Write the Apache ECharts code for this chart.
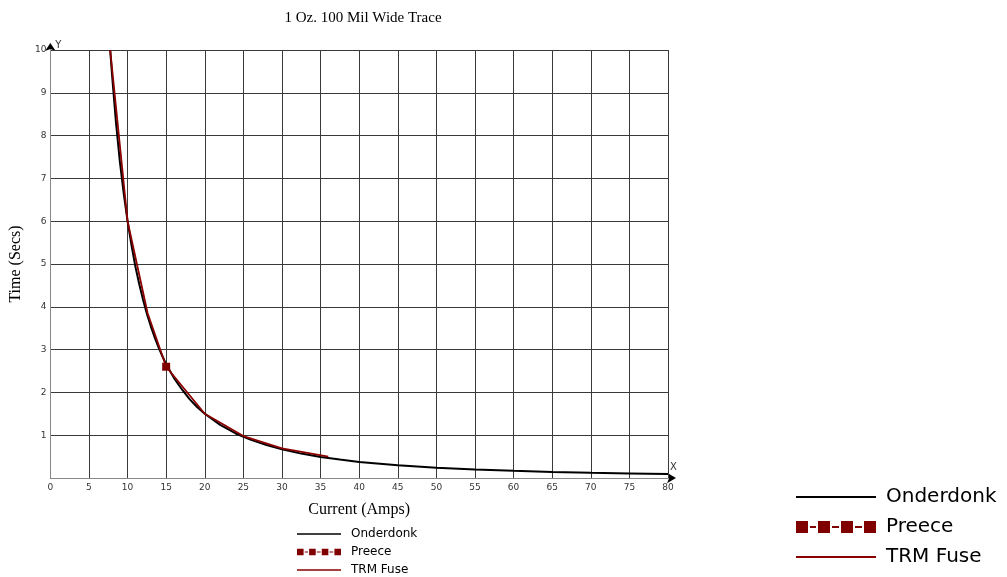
<!DOCTYPE html>
<html>
<head>
<meta charset="utf-8">
<script src="https://cdn.jsdelivr.net/npm/echarts@6/dist/echarts.min.js"></script>
<style>
  html, body { margin: 0; padding: 0; background: #fff; }
  #chart { width: 1007px; height: 577px; }
</style>
</head>
<body>
<div id="chart"></div>
<script>
// Fusing time versus current for a 1 oz, 100 mil wide copper trace
const chartTitle = '1 Oz. 100 Mil Wide Trace';
const xTickValues = [0, 5, 10, 15, 20, 25, 30, 35, 40, 45, 50, 55, 60, 65, 70, 75, 80];
const yTickValues = [0, 1, 2, 3, 4, 5, 6, 7, 8, 9, 10];

// Onderdonk: current (A) and time (s)
const onderdonkAmps = [7.75, 8, 8.5, 9, 9.5, 10, 10.5, 11, 11.5, 12, 12.5, 13, 13.5, 14, 14.5, 15, 16, 17, 18, 19, 20, 22, 24, 26, 28, 30, 32.5, 35, 37.5, 40, 45, 50, 55, 60, 65, 70, 75, 80];
const onderdonkSecs = [10, 9.4, 8.3, 7.4, 6.65, 6.0, 5.45, 4.95, 4.54, 4.17, 3.84, 3.55, 3.29, 3.06, 2.85, 2.66, 2.34, 2.08, 1.85, 1.66, 1.5, 1.24, 1.04, 0.89, 0.77, 0.67, 0.57, 0.49, 0.43, 0.375, 0.30, 0.24, 0.20, 0.167, 0.142, 0.122, 0.107, 0.094];

// Preece: single point in range
const preeceAmps = [15];
const preeceSecs = [2.6];

// TRM Fuse
const trmAmps = [7.75, 10, 12.6, 15, 20, 25, 30, 36];
const trmSecs = [10, 6.0, 3.85, 2.6, 1.5, 0.98, 0.69, 0.5];

const seriesNames = ['Onderdonk', 'Preece', 'TRM Fuse'];

const pair = (xs, ys) => xs.map((x, i) => [x, ys[i]]);

// legend glyphs: a plain stroke, and a square-dash-square pattern
const bigLine = 'path://M0 0 h80 v2 h-80 Z';
const smallLine = 'path://M0 0 h44 v1.6 h-44 Z';
const preeceIcon = 'path://M0 0 h12 v12 h-12 Z M14 5 h6 v2 h-6 Z M22 0 h12 v12 h-12 Z M36 5 h7 v2 h-7 Z M45 0 h12 v12 h-12 Z M59 5 h7 v2 h-7 Z M68 0 h12 v12 h-12 Z';

const legendItems = (lineIcon) => seriesNames.map(n => ({ name: n, icon: n === 'Preece' ? preeceIcon : lineIcon }));

const chart = echarts.init(document.getElementById('chart'), null, { renderer: 'canvas' });

const gridLine = { show: true, lineStyle: { color: '#3a3a3a', width: 1 } };
const tickLabel = { color: '#333', fontFamily: 'DejaVu Sans', fontSize: 9 };

chart.setOption({
  animation: false,
  backgroundColor: '#fff',
  title: {
    text: chartTitle,
    left: 358,
    textAlign: 'center',
    top: 6,
    textStyle: { fontFamily: 'Liberation Serif', fontWeight: 'normal', fontSize: 15, color: '#000' }
  },
  legend: [
    {
      data: legendItems(smallLine),
      orient: 'vertical',
      left: 297,
      top: 527,
      padding: 0,
      itemWidth: 44,
      itemHeight: 7,
      itemGap: 4,
      textStyle: { fontFamily: 'DejaVu Sans', fontSize: 12, color: '#000', lineHeight: 14, padding: [0, 0, 0, 5] },
      selectedMode: false
    },
    {
      data: legendItems(bigLine),
      orient: 'vertical',
      left: 796,
      top: 486,
      padding: 0,
      itemWidth: 80,
      itemHeight: 12,
      itemGap: 8,
      textStyle: { fontFamily: 'DejaVu Sans', fontSize: 20, color: '#000', lineHeight: 22, padding: [0, 0, 0, 5] },
      selectedMode: false
    }
  ],
  grid: { left: 49, right: 339, top: 50, bottom: 99, containLabel: false },
  xAxis: [
    {
      type: 'value',
      min: 0, max: 80, interval: 5,
      name: 'Current (Amps)',
      nameLocation: 'middle',
      nameGap: 24,
      nameTextStyle: { fontFamily: 'Liberation Serif', fontSize: 16, color: '#000' },
      axisLine: { show: true, onZero: false, lineStyle: { color: '#888', width: 1 } },
      axisTick: { show: false },
      axisLabel: Object.assign({ margin: 5 }, tickLabel),
      splitLine: gridLine,
      z: 2
    },
    {
      // black arrowhead and the "X" tag at the end of the current axis
      type: 'value',
      min: 0, max: 80,
      position: 'bottom',
      name: 'X',
      nameLocation: 'end',
      nameGap: 2,
      nameTextStyle: { fontFamily: 'DejaVu Sans', fontSize: 10, color: '#333', verticalAlign: 'bottom', padding: [0, 0, 6, 0] },
      axisLine: { show: true, onZero: false, lineStyle: { color: '#000', width: 1 }, symbol: ['none', 'arrow'], symbolSize: [8, 9], symbolOffset: [0, 8] },
      axisTick: { show: false },
      axisLabel: { show: false },
      splitLine: { show: false },
      z: 1
    }
  ],
  yAxis: [
    {
      type: 'value',
      min: 0, max: 10, interval: 1,
      name: 'Time (Secs)',
      nameLocation: 'middle',
      nameGap: 24,
      nameTextStyle: { fontFamily: 'Liberation Serif', fontSize: 16, color: '#000' },
      axisLine: { show: true, onZero: false, lineStyle: { color: '#888', width: 1 } },
      axisTick: { show: false },
      axisLabel: Object.assign({ margin: 4, showMinLabel: false }, tickLabel),
      splitLine: gridLine,
      z: 2
    },
    {
      // black arrowhead and the "Y" tag at the top of the time axis
      type: 'value',
      min: 0, max: 10,
      position: 'left',
      name: 'Y',
      nameLocation: 'end',
      nameGap: 0,
      nameTextStyle: { fontFamily: 'DejaVu Sans', fontSize: 10, color: '#333', align: 'left', padding: [0, 0, 0, 5] },
      axisLine: { show: true, onZero: false, lineStyle: { color: '#000', width: 1 }, symbol: ['none', 'arrow'], symbolSize: [8, 8], symbolOffset: [0, 7] },
      axisTick: { show: false },
      axisLabel: { show: false },
      splitLine: { show: false },
      z: 1
    }
  ],
  series: [
    {
      name: 'Onderdonk',
      type: 'line',
      data: pair(onderdonkAmps, onderdonkSecs),
      symbol: 'none',
      color: '#000',
      lineStyle: { color: '#000', width: 2 },
      z: 2
    },
    {
      name: 'TRM Fuse',
      type: 'line',
      data: pair(trmAmps, trmSecs),
      symbol: 'none',
      color: '#8b0000',
      lineStyle: { color: '#8b0000', width: 1.8 },
      z: 3
    },
    {
      name: 'Preece',
      type: 'line',
      data: pair(preeceAmps, preeceSecs),
      symbol: 'rect',
      symbolSize: 8,
      color: '#800000',
      itemStyle: { color: '#800000' },
      lineStyle: { color: '#800000', width: 2, type: 'dashed' },
      z: 4
    }
  ]
});
</script>
</body>
</html>
